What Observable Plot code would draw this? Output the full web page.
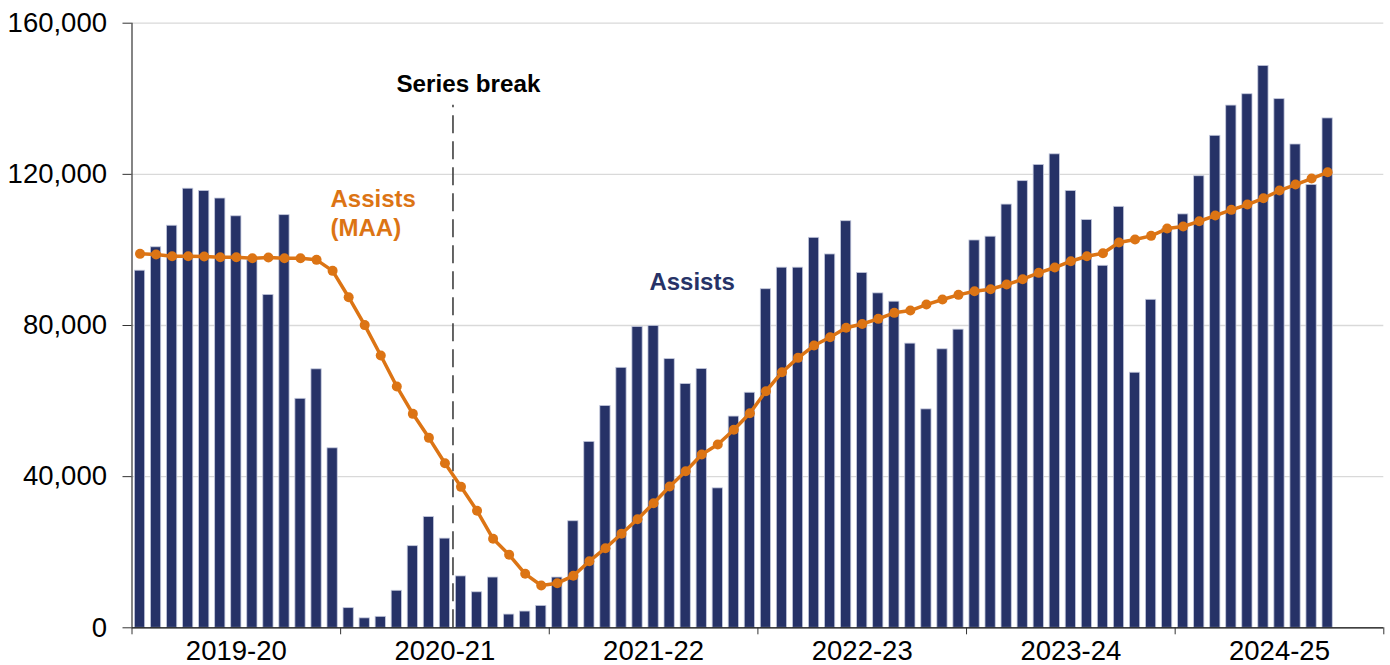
<!DOCTYPE html>
<html>
<head>
<meta charset="utf-8">
<script src="https://cdn.jsdelivr.net/npm/d3@7"></script>
<script src="https://cdn.jsdelivr.net/npm/@observablehq/plot@0.6"></script>
<style>
  html, body { margin: 0; padding: 0; background: #fff; }
</style>
</head>
<body>
<div id="chart"></div>
<script>
// Financial years (13 four-weekly periods each)
const years = ["2019-20", "2020-21", "2021-22", "2022-23", "2023-24", "2024-25"];
const periodsPerYear = 13;

// Assists per period
const assists = [
  94500, 100700, 106400, 116200, 115600, 113600, 108900, 97200, 88100, 109200, 60600, 68400, 47500,
  5200, 2500, 2900, 9800, 21600, 29300, 23600, 13600, 9400, 13300, 3500, 4300, 5800,
  13300, 28200, 49200, 58700, 68800, 79600, 79900, 71100, 64500, 68500, 36900, 55900, 62200,
  89600, 95300, 95300, 103200, 98800, 107600, 93900, 88500, 86300, 75200, 57800, 73700, 78900,
  102500, 103500, 112000, 118200, 122500, 125300, 115600, 107900, 95800, 111400, 67500, 86800, 105500,
  109400, 119500, 130200, 138200, 141200, 148700, 139900, 127900, 117200, 134800
];

// Assists moving annual average (MAA) per period
const assistsMAA = [
  98960, 98780, 98330, 98330, 98240, 98070, 98070, 97800, 97980, 97800, 97800, 97370, 94460,
  87480, 80100, 72050, 63850, 56620, 50270, 43550, 37300, 30960, 23550, 19320, 14290, 11190,
  11800, 13760, 17620, 21060, 24870, 28740, 32970, 37390, 41440, 45860, 48500, 52390, 56780,
  62600, 67630, 71440, 74700, 76900, 79400, 80400, 81760, 83350, 83960, 85540, 86870, 88110,
  89070, 89600, 90840, 92240, 93930, 95340, 97010, 98330, 99120, 101950, 102740, 103720, 105650,
  106180, 107590, 109100, 110600, 112010, 113670, 115710, 117300, 118890, 120550
];

// Series break falls before this period index (0-based)
const seriesBreakIndex = 20;

const yTicks = [0, 40000, 80000, 120000, 160000];

const navy = "#263267";
const orange = "#dc7414";

const table = assists.map((v, i) => ({ i, v, m: assistsMAA[i] }));
const nPeriods = years.length * periodsPerYear;
const yearBounds = d3.range(0, nPeriods + 1, periodsPerYear);
const yearCentres = years.map((_, k) => k * periodsPerYear + periodsPerYear / 2);

const chart = Plot.plot({
  width: 1390,
  height: 665,
  marginLeft: 131.5,
  marginRight: 6.7,
  marginTop: 22.7,
  marginBottom: 37.7,
  style: { fontFamily: "'Liberation Sans', Arial, sans-serif", fontSize: "27px", color: "#000", background: "#fff" },
  x: { domain: [0, nPeriods] },
  y: { domain: [0, 160000] },
  marks: [
    Plot.ruleY(yTicks.filter(d => d > 0), { stroke: "#d9d9d9", strokeWidth: 1.3 }),
    Plot.rectY(table, {
      x1: d => d.i, x2: d => d.i + 1, y: "v",
      fill: navy, stroke: "#c3c8dc", strokeWidth: 0.8,
      insetLeft: 2.9, insetRight: 2.9
    }),
    Plot.ruleY([0], { stroke: "#000", strokeWidth: 1.2 }),
    Plot.ruleX([0], { stroke: "#333", strokeWidth: 1.2 }),
    Plot.axisY({
      ticks: yTicks, tickFormat: d3.format(","), tickSize: 9, tickPadding: 16,
      fontSize: 27.5, label: null, stroke: "#333"
    }),
    Plot.axisX({ ticks: yearBounds, tickFormat: () => "", tickSize: 7, label: null, stroke: "#333" }),
    Plot.axisX({
      ticks: yearCentres, tickFormat: (d, k) => years[k], tickSize: 0, tickPadding: 13,
      fontSize: 27.5, label: null
    }),
    Plot.ruleX([seriesBreakIndex], {
      y1: 0, y2: 138300, stroke: "#404040", strokeWidth: 1.6, strokeDasharray: "18,8"
    }),
    Plot.line(table, { x: d => d.i + 0.5, y: "m", stroke: orange, strokeWidth: 3.5 }),
    Plot.dot(table, { x: d => d.i + 0.5, y: "m", r: 5, fill: orange, stroke: "none" }),
    Plot.text(["Series break"], {
      x: 16.48, y: 141700, text: d => d, textAnchor: "start", lineAnchor: "bottom",
      fontWeight: "bold", fontSize: 24.2, fill: "#000"
    }),
    Plot.text(["Assists\n(MAA)"], {
      x: 12.37, y: 103800, text: d => d, textAnchor: "start", lineAnchor: "bottom",
      lineHeight: 1.18, fontWeight: "bold", fontSize: 24, fill: orange
    }),
    Plot.text(["Assists"], {
      x: 32.24, y: 89400, text: d => d, textAnchor: "start", lineAnchor: "bottom",
      fontWeight: "bold", fontSize: 24, fill: navy
    })
  ]
});
document.getElementById("chart").append(chart);
</script>
</body>
</html>
